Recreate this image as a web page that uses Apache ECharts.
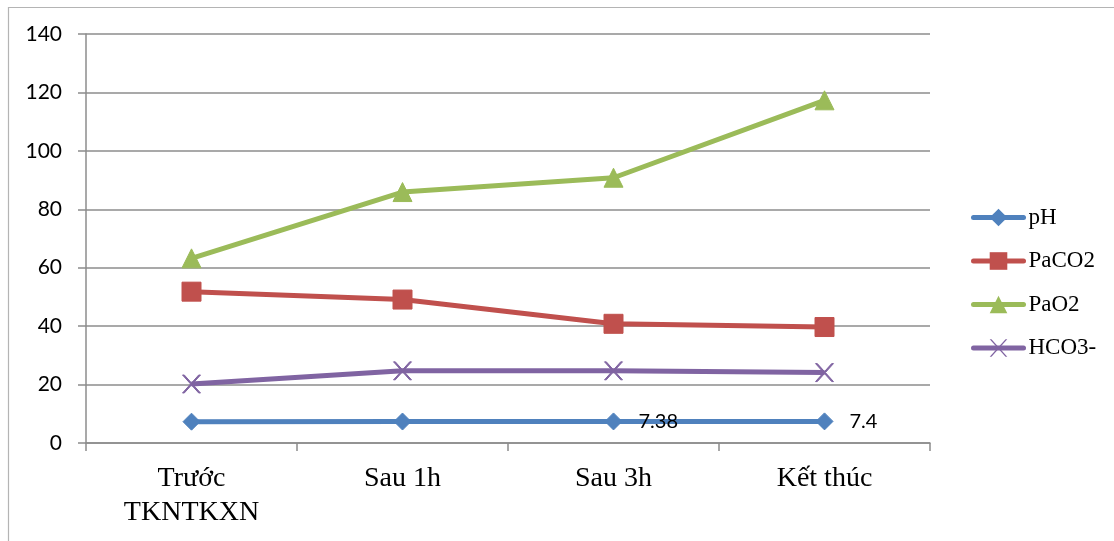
<!DOCTYPE html>
<html>
<head>
<meta charset="utf-8">
<script src="https://cdn.jsdelivr.net/npm/echarts@6/dist/echarts.min.js"></script>
<style>
  html, body { margin: 0; padding: 0; background: #fff; }
  #chart { width: 1114px; height: 541px; }
</style>
</head>
<body>
<div id="chart"></div>
<script>
// Blood gas values over the course of treatment
const categories = ['Trước\nTKNTKXN', 'Sau 1h', 'Sau 3h', 'Kết thúc'];
const pH = [7.3, 7.35, 7.38, 7.4];
const PaCO2 = [51.8, 49.1, 40.8, 39.7];
const PaO2 = [63.2, 85.9, 90.8, 117.3];
const HCO3 = [20.2, 24.7, 24.7, 24.1];
const yTicks = { min: 0, max: 140, interval: 20 };

const serif = '"Liberation Serif", "DejaVu Serif", serif';
const sans = 'Lato, "Liberation Sans", sans-serif';
const gridGray = '#8c8c8c';
const crossPath = 'path://M0,0 L2,0 L10,8 L18,0 L20,0 L11,9 L20,18 L18,18 L10,10 L2,18 L0,18 L9,9 Z';

function lineSeries(name, data, color, symbol, size, extra) {
  return Object.assign({
    name: name,
    type: 'line',
    data: data,
    symbol: symbol,
    symbolSize: size,
    lineStyle: { color: color, width: 5 },
    itemStyle: { color: color, borderColor: color },
    emphasis: { disabled: true },
    animation: false,
    z: 3
  }, extra || {});
}

function legendItem(name, color) {
  return { name: name, lineStyle: { color: color, width: 5, cap: 'round' }, itemStyle: { color: color } };
}

const chart = echarts.init(document.getElementById('chart'), null, { renderer: 'canvas' });
chart.setOption({
  backgroundColor: '#fff',
  animation: false,
  graphic: [{
    type: 'rect',
    shape: { x: 8.5, y: 7.5, width: 1300, height: 700 },
    style: { fill: 'none', stroke: '#b4b4b4', lineWidth: 1.2 },
    silent: true, z: -1
  }],
  grid: { left: 86, right: 184, top: 34, bottom: 98, containLabel: false },
  legend: {
    orient: 'vertical',
    left: 966,
    top: 201,
    itemWidth: 50,
    itemHeight: 22,
    itemGap: 20.5,
    lineStyle: { width: 5 },
    textStyle: { fontFamily: serif, fontSize: 23, color: '#000' },
    data: [
      legendItem('pH', '#4F81BD'),
      legendItem('PaCO2', '#C0504D'),
      legendItem('PaO2', '#9BBB59'),
      legendItem('HCO3-', '#8064A2')
    ]
  },
  xAxis: {
    type: 'category',
    data: categories,
    boundaryGap: true,
    axisLine: { lineStyle: { color: gridGray, width: 1.5 } },
    axisTick: { show: true, length: 8, interval: 0, lineStyle: { color: gridGray, width: 1.5 } },
    axisLabel: {
      interval: 0, margin: 19, color: '#000',
      fontFamily: serif, fontSize: 28, lineHeight: 34
    }
  },
  yAxis: {
    type: 'value',
    min: yTicks.min, max: yTicks.max, interval: yTicks.interval,
    axisLine: { show: true, lineStyle: { color: gridGray, width: 1.5 } },
    axisTick: { show: true, length: 8, lineStyle: { color: gridGray, width: 1.5 } },
    splitLine: { show: true, lineStyle: { color: gridGray, width: 1.5 } },
    axisLabel: { margin: 24, color: '#000', fontFamily: sans, fontSize: 21 }
  },
  series: [
    lineSeries('pH', pH, '#4F81BD', 'diamond', 17, {
      label: {
        show: true, position: 'right', distance: 16,
        fontFamily: sans, fontSize: 20, color: '#000',
        formatter: p => (p.dataIndex >= 2 ? String(p.value) : '')
      },
      z: 4
    }),
    lineSeries('PaCO2', PaCO2, '#C0504D', 'rect', 19),
    lineSeries('PaO2', PaO2, '#9BBB59', 'triangle', 19),
    lineSeries('HCO3-', HCO3, '#8064A2', crossPath, 18)
  ]
});
</script>
</body>
</html>
